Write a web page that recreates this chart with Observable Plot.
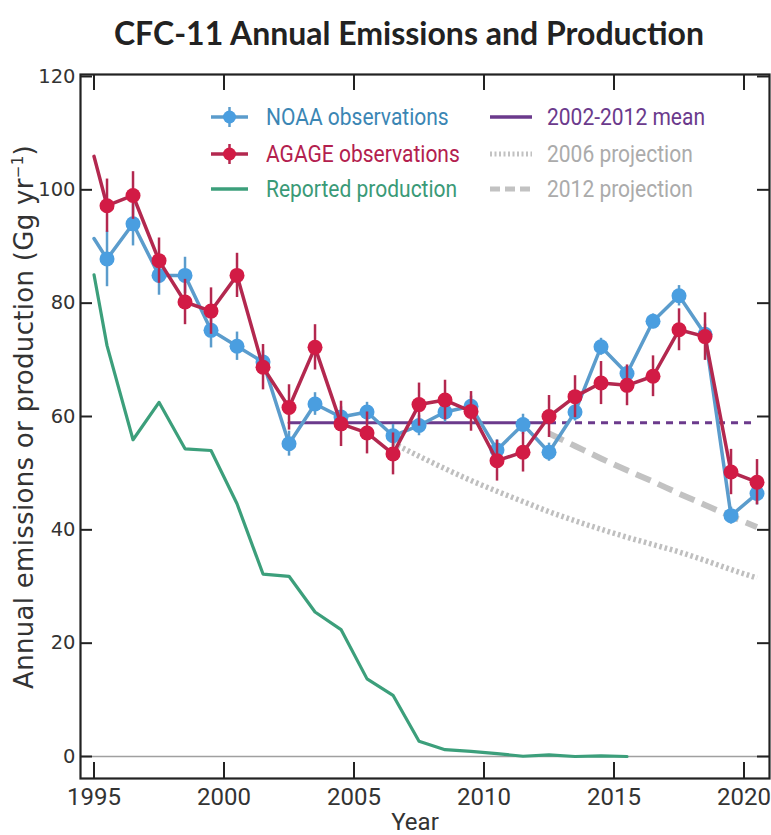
<!DOCTYPE html>
<html>
<head>
<meta charset="utf-8">
<script src="https://cdn.jsdelivr.net/npm/d3@7"></script>
<script src="https://cdn.jsdelivr.net/npm/@observablehq/plot@0.6"></script>
<style>
  body { margin: 0; background: #fff; }
  #wrap { position: relative; width: 771px; height: 835px; overflow: hidden; background: #fff; }
  #title { position: absolute; left: 47px; right: 0; top: 8px; text-align: center;
           font-family: Lato, "Open Sans", sans-serif; font-weight: 700; font-size: 32px; color: #222; line-height: 50px; }
  #chart { position: absolute; left: 0; top: 60px; }
  .cond { font-family: Roboto, "Noto Sans", sans-serif; }
  #ylabel { position: absolute; left: 24px; top: 417px; transform: translate(-50%, -50%) rotate(-90deg);
            white-space: nowrap; font-family: "DejaVu Sans", sans-serif; font-size: 26px; letter-spacing: 0.3px;
            color: #333; line-height: 30px; }
  #ylabel sup { font-size: 15px; line-height: 0; }
  #xlabel { position: absolute; left: 415px; top: 809px; transform: translateX(-50%);
            font-size: 24px; color: #333; line-height: 26px; height: 26px; }
  .leg { position: absolute; height: 30px; display: flex; align-items: center; white-space: nowrap; font-size: 24px; }
  .leg span { display: inline-block; transform: scaleX(0.875); transform-origin: left center; }
  .leg svg { display: block; }
</style>
</head>
<body>
<div id="wrap">
  <div id="title">CFC-11 Annual Emissions and Production</div>
  <div id="chart"></div>
  <div id="ylabel">Annual emissions or production (Gg yr<sup>−1</sup>)</div>
  <div id="xlabel" class="cond">Year</div>
  <div id="legend"></div>
</div>
<script>
// ---------------- data ----------------
const obsYears = [1995.5, 1996.5, 1997.5, 1998.5, 1999.5, 2000.5, 2001.5, 2002.5, 2003.5, 2004.5,
                  2005.5, 2006.5, 2007.5, 2008.5, 2009.5, 2010.5, 2011.5, 2012.5, 2013.5, 2014.5,
                  2015.5, 2016.5, 2017.5, 2018.5, 2019.5, 2020.5];
const lineStartYear = 1995.0;

const noaaStart = 91.4;
const noaaValues = [87.8, 94.0, 84.9, 84.9, 75.2, 72.4, 69.6, 55.2, 62.2, 59.9,
                    60.8, 56.6, 58.4, 60.8, 61.8, 54.1, 58.6, 53.7, 60.8, 72.3,
                    67.6, 76.8, 81.3, 74.5, 42.5, 46.4];
const noaaErrors = [4.9, 3.9, 3.5, 3.2, 3.1, 2.5, 2.0, 2.2, 2.0, 1.8,
                    1.7, 2.0, 1.8, 1.8, 1.8, 1.8, 1.8, 1.6, 1.6, 1.5,
                    1.3, 1.3, 1.8, 1.8, 1.5, 2.0];

const agageStart = 105.9;
const agageValues = [97.2, 99.0, 87.5, 80.2, 78.6, 84.9, 68.7, 61.6, 72.2, 58.7,
                     57.1, 53.4, 62.1, 62.9, 60.9, 52.2, 53.7, 60.0, 63.5, 65.9,
                     65.5, 67.1, 75.3, 74.1, 50.2, 48.4];
const agageErrors = [4.7, 4.2, 4.0, 4.0, 4.1, 3.9, 4.0, 4.0, 4.0, 4.0,
                     3.7, 3.7, 3.8, 3.5, 3.5, 3.6, 3.5, 3.7, 3.7, 3.8,
                     3.6, 3.6, 3.7, 4.2, 4.0, 4.0];

const prodYears = [1995.0, 1995.5, 1996.5, 1997.5, 1998.5, 1999.5, 2000.5, 2001.5, 2002.5, 2003.5,
                   2004.5, 2005.5, 2006.5, 2007.5, 2008.5, 2009.5, 2010.5, 2011.5, 2012.5, 2013.5,
                   2014.5, 2015.5];
const prodValues = [85.0, 72.5, 55.9, 62.5, 54.3, 54.0, 44.6, 32.2, 31.8, 25.5,
                    22.4, 13.7, 10.8, 2.7, 1.2, 0.9, 0.5, 0.05, 0.3, 0.0,
                    0.1, 0.0];

const meanValue = 58.9;
const meanSolidYears = [2002.5, 2012.5];
const meanDottedYears = [2012.5, 2020.5];

const proj2006Years = [2006.5, 2007.5, 2008.5, 2009.5, 2010.5, 2011.5, 2012.5, 2013.5,
                       2014.5, 2015.5, 2016.5, 2017.5, 2018.5, 2019.5, 2020.5];
const proj2006Values = [55.3, 53.0, 50.8, 48.7, 46.8, 45.0, 43.2, 41.6,
                        40.1, 38.7, 37.4, 36.1, 34.6, 33.0, 31.5];
const proj2012Years = [2012.5, 2013.5, 2014.5, 2015.5, 2016.5, 2017.5, 2018.5, 2019.5, 2020.5];
const proj2012Values = [57.0, 54.8, 52.6, 50.5, 48.5, 46.4, 44.4, 42.4, 40.5];

const xTicks = [1995, 2000, 2005, 2010, 2015, 2020];
const yTicks = [0, 20, 40, 60, 80, 100, 120];

const legendLeft = [
  {label: "NOAA observations", kind: "obs", line: "#5b9ccc", dot: "#4a9ee0", text: "#3b86b4"},
  {label: "AGAGE observations", kind: "obs", line: "#b3284f", dot: "#d21b45", text: "#b3204e"},
  {label: "Reported production", kind: "solid", line: "#3c9f7b", text: "#3a9a77"}
];
const legendRight = [
  {label: "2002-2012 mean", kind: "solid", line: "#6b3a8c", text: "#6b3a8c"},
  {label: "2006 projection", kind: "dotted", line: "#c2c2c2", text: "#ababab"},
  {label: "2012 projection", kind: "dashed", line: "#c2c2c2", text: "#ababab"}
];

// ---------------- derived tables ----------------
const noaaObs = obsYears.map((x, i) => ({x, y: noaaValues[i], lo: noaaValues[i] - noaaErrors[i], hi: noaaValues[i] + noaaErrors[i]}));
const agageObs = obsYears.map((x, i) => ({x, y: agageValues[i], lo: agageValues[i] - agageErrors[i], hi: agageValues[i] + agageErrors[i]}));
const noaaLine = [{x: lineStartYear, y: noaaStart}, ...noaaObs];
const agageLine = [{x: lineStartYear, y: agageStart}, ...agageObs];
const prod = prodYears.map((x, i) => ({x, y: prodValues[i]}));
const meanSolid = meanSolidYears.map(x => ({x, y: meanValue}));
const meanDotted = meanDottedYears.map(x => ({x, y: meanValue}));
const p2006 = proj2006Years.map((x, i) => ({x, y: proj2006Values[i]}));
const p2012 = proj2012Years.map((x, i) => ({x, y: proj2012Values[i]}));

// ---------------- plot ----------------
const W = 771, H = 775, mL = 80, mR = 2, mT = 14, mB = 57;
const plotW = W - mL - mR, plotH = H - mT - mB;
const axisColor = "#222";
const condFont = 'Roboto, "Noto Sans", sans-serif';

const chart = Plot.plot({
  width: W, height: H,
  marginLeft: mL, marginRight: mR, marginTop: mT, marginBottom: mB,
  x: {domain: [1994.48, 2020.98], axis: null},
  y: {domain: [-3.88, 120.35], axis: null},
  style: {background: "transparent", overflow: "visible"},
  marks: [
    Plot.ruleY([0], {stroke: "#a0a0a0", strokeWidth: 1.3}),
    Plot.line(p2006, {x: "x", y: "y", stroke: "#bfbfbf", strokeWidth: 5.5, strokeDasharray: "2.6,2.8",
                      strokeLinecap: "butt", curve: "monotone-x"}),
    Plot.line(p2012, {x: "x", y: "y", stroke: "#c2c2c2", strokeWidth: 6, strokeDasharray: "16,8",
                      strokeLinecap: "butt", curve: "monotone-x"}),
    Plot.line(meanSolid, {x: "x", y: "y", stroke: "#6b3a8c", strokeWidth: 3}),
    Plot.line(meanDotted, {x: "x", y: "y", stroke: "#6b3a8c", strokeWidth: 3, strokeDasharray: "7,6", strokeLinecap: "butt"}),
    Plot.line(prod, {x: "x", y: "y", stroke: "#3c9f7b", strokeWidth: 3.2}),
    Plot.line(noaaLine, {x: "x", y: "y", stroke: "#5b9ccc", strokeWidth: 3.5}),
    Plot.ruleX(noaaObs, {x: "x", y1: "lo", y2: "hi", stroke: "#5b9ccc", strokeWidth: 2.5}),
    Plot.dot(noaaObs, {x: "x", y: "y", r: 7.5, fill: "#4a9ee0", stroke: "none"}),
    Plot.line(agageLine, {x: "x", y: "y", stroke: "#b3284f", strokeWidth: 3.5}),
    Plot.ruleX(agageObs, {x: "x", y1: "lo", y2: "hi", stroke: "#b3284f", strokeWidth: 2.5}),
    Plot.dot(agageObs, {x: "x", y: "y", r: 7.5, fill: "#d21b45", stroke: "none"}),
    Plot.frame({stroke: axisColor, strokeWidth: 2.2}),
    Plot.tickX(xTicks, {x: d => d, insetTop: plotH - 16, stroke: axisColor, strokeWidth: 2}),
    Plot.tickX(xTicks, {x: d => d, insetBottom: plotH - 16, stroke: axisColor, strokeWidth: 2}),
    Plot.tickY(yTicks, {y: d => d, insetRight: plotW - 12, stroke: axisColor, strokeWidth: 2}),
    Plot.tickY(yTicks, {y: d => d, insetLeft: plotW - 12, stroke: axisColor, strokeWidth: 2}),
    Plot.axisX({ticks: xTicks, tickSize: 0, tickPadding: 9, tickFormat: d => String(d), label: null,
                fontSize: 24, fontFamily: condFont, fill: "#333"}),
    Plot.axisY({ticks: yTicks, tickSize: 0, tickPadding: 5, tickFormat: d => String(d), label: null,
                fontSize: 19.5, fontFamily: '"DejaVu Sans", sans-serif', fill: "#333"})
  ]
});
document.getElementById("chart").appendChild(chart);

// ---------------- legend ----------------
const legend = document.getElementById("legend");
const rowCenters = [117, 154, 189];
function swatch(item, w) {
  const ns = "http://www.w3.org/2000/svg";
  const svg = document.createElementNS(ns, "svg");
  svg.setAttribute("width", w); svg.setAttribute("height", 30);
  const line = document.createElementNS(ns, "line");
  line.setAttribute("x1", 0); line.setAttribute("x2", w);
  line.setAttribute("y1", 15); line.setAttribute("y2", 15);
  line.setAttribute("stroke", item.line);
  if (item.kind === "obs" || item.kind === "solid") line.setAttribute("stroke-width", 3.5);
  if (item.kind === "dotted") { line.setAttribute("stroke-width", 5); line.setAttribute("stroke-dasharray", "2,2.5"); }
  if (item.kind === "dashed") { line.setAttribute("stroke-width", 5); line.setAttribute("stroke-dasharray", "10,5"); }
  svg.appendChild(line);
  if (item.kind === "obs") {
    const err = document.createElementNS(ns, "line");
    err.setAttribute("x1", w / 2); err.setAttribute("x2", w / 2);
    err.setAttribute("y1", 5); err.setAttribute("y2", 25);
    err.setAttribute("stroke", item.line); err.setAttribute("stroke-width", 2.5);
    svg.appendChild(err);
    const c = document.createElementNS(ns, "circle");
    c.setAttribute("cx", w / 2); c.setAttribute("cy", 15); c.setAttribute("r", 6.5);
    c.setAttribute("fill", item.dot);
    svg.appendChild(c);
  }
  return svg;
}
function addColumn(items, swX, swW, textX) {
  items.forEach((item, i) => {
    const row = document.createElement("div");
    row.className = "leg cond";
    row.style.left = swX + "px";
    row.style.top = (rowCenters[i] - 15) + "px";
    row.appendChild(swatch(item, swW));
    const t = document.createElement("span");
    t.textContent = item.label;
    t.style.color = item.text;
    t.style.marginLeft = (textX - swX - swW) + "px";
    row.appendChild(t);
    legend.appendChild(row);
  });
}
addColumn(legendLeft, 211, 37, 266);
addColumn(legendRight, 490, 42, 547);
</script>
</body>
</html>
